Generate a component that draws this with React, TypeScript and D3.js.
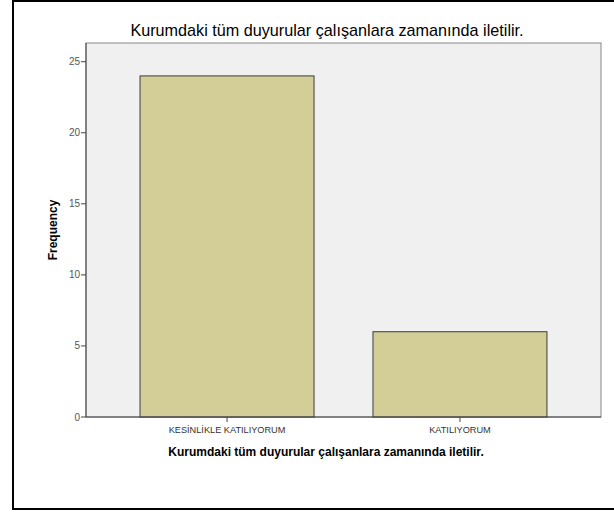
import React from "react";
import * as d3 from "d3";

const categories = ["KESİNLİKLE KATILIYORUM", "KATILIYORUM"];
const frequencies = [24, 6];
const yTicks = [0, 5, 10, 15, 20, 25];
const titleText = "Kurumdaki tüm duyurular çalışanlara zamanında iletilir.";
const yLabel = "Frequency";

export default function App() {
  const W = 614, H = 512;
  const left = 86, right = 601, top = 43, bottom = 417;
  const x = d3.scaleBand<string>().domain(categories).range([left, right]).paddingInner(0.253).paddingOuter(0.232);
  const y = d3.scaleLinear().domain([0, 25]).range([bottom, 61.7]);
  const font = "Arial, 'Liberation Sans', sans-serif";
  return (
    <svg width={W} height={H} style={{ position: "absolute", left: 0, top: 0, background: "#fff" }}>
      <rect x={13} y={1} width={700} height={508} fill="#fff" stroke="#000" strokeWidth={2} />
      <text x={327} y={35.5} textAnchor="middle" fontFamily={font} fontSize={16.2} fill="#000">{titleText}</text>
      <rect x={left} y={top} width={right - left} height={bottom - top} fill="#f0f0f0" stroke="#888" strokeWidth={1} />
      {categories.map((c, i) => (
        <rect key={c} x={x(c)!} y={y(frequencies[i])} width={x.bandwidth()} height={bottom - y(frequencies[i])}
          fill="#d3ce97" stroke="#3c3c3c" strokeWidth={1} />
      ))}
      <line x1={left} x2={left} y1={top} y2={bottom} stroke="#444" strokeWidth={1} />
      <line x1={left} x2={right} y1={bottom} y2={bottom} stroke="#444" strokeWidth={1} />
      {yTicks.map(t => (
        <g key={t}>
          <line x1={left - 5} x2={left} y1={y(t)} y2={y(t)} stroke="#444" />
          <text x={left - 6} y={y(t)} dy="0.35em" textAnchor="end" fontFamily={font} fontSize={10} fill="#555">{t}</text>
        </g>
      ))}
      {categories.map(c => {
        const cx = x(c)! + x.bandwidth() / 2;
        return (
          <g key={c}>
            <line x1={cx} x2={cx} y1={bottom} y2={bottom + 5} stroke="#444" />
            <text x={cx} y={433} textAnchor="middle" fontFamily={font} fontSize={9.2} fill="#333">{c}</text>
          </g>
        );
      })}
      <text x={326} y={456} textAnchor="middle" fontFamily={font} fontSize={12} fontWeight="bold" fill="#000">{titleText}</text>
      <text transform={`translate(57,230) rotate(-90)`} textAnchor="middle" fontFamily={font} fontSize={12} fontWeight="bold" fill="#000">{yLabel}</text>
    </svg>
  );
}
